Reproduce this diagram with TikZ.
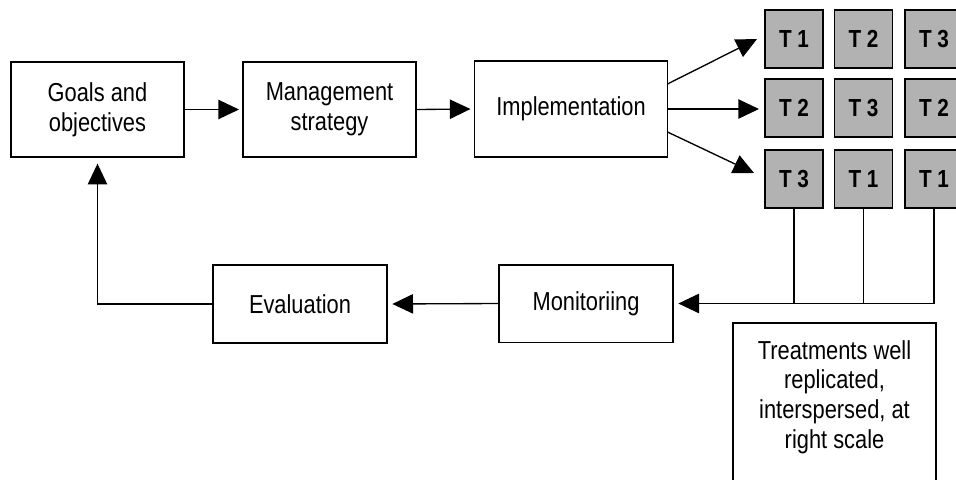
\documentclass[tikz,border=0pt]{standalone}
\usepackage{fontspec}
\setmainfont[FakeStretch=0.84]{Liberation Sans}
\usetikzlibrary{arrows.meta,calc}
\definecolor{tgray}{RGB}{178,178,178}
\begin{document}
\begin{tikzpicture}[x=0.75pt,y=-0.75pt,
  font=\fontsize{19.5pt}{22.3pt}\selectfont,
  every node/.style={inner sep=0pt, outer sep=0pt},
  box/.style={draw, line width=1pt, align=center, fill=white},
  tbox/.style={draw, line width=1pt, fill=tgray, minimum width=43.5pt, minimum height=43.5pt,
    font=\fontsize{18.5pt}{20pt}\selectfont\bfseries},
  conn/.style={line width=1pt},
  arr/.style={line width=1pt, -{Triangle[length=15.5pt,width=14.5pt]}},
]
\useasboundingbox (0,0) rectangle (956,479);
% main boxes
\node[box, minimum width=129.75pt, minimum height=71.25pt] (goals) at (97.5,109.5) {Goals and\\objectives};
\node[box, minimum width=129.75pt, minimum height=71.25pt] (mgmt) at (329.5,109.5) {Management\\strategy};
\node[box, minimum width=144.75pt, minimum height=72pt] (impl) at (571,109) {Implementation};
\node[box, minimum width=130.5pt, minimum height=58.5pt] (eval) at (300,304) {Evaluation};
\node[box, minimum width=130.5pt, minimum height=58pt] (mon) at (586,303.5) {Monitoriing};
% treatment grid
\node[tbox] (t11) at (794,39) {T 1};
\node[tbox] (t12) at (863.5,39) {T 2};
\node[tbox] (t13) at (934,39) {T 3};
\node[tbox] (t21) at (794,108) {T 2};
\node[tbox] (t22) at (863.5,108) {T 3};
\node[tbox] (t23) at (934,108) {T 2};
\node[tbox] (t31) at (794,179) {T 3};
\node[tbox] (t32) at (863.5,179) {T 1};
\node[tbox] (t33) at (934,179) {T 1};
% treatments box (runs off the bottom)
\node[box, minimum width=152.25pt, minimum height=150pt, anchor=north] (treat) at (834.5,323) {};
\node[align=center, anchor=north] (treattxt) at ([yshift=-13pt]treat.north) {Treatments well\\replicated,\\interspersed, at\\right scale};
% connectors
\draw[arr, shorten >=3pt] (goals.east) -- (mgmt.west);
\draw[arr, shorten >=3pt] (mgmt.east) -- (impl.west);
\draw[arr] ([yshift=18.75pt]impl.east) -- ([xshift=-6pt]t11.west);
\draw[arr] (impl.east) -- ([xshift=-4.5pt]t21.west |- impl.east);
\draw[arr] ([yshift=-17.25pt]impl.east) -- ([xshift=-8.25pt,yshift=4.5pt]t31.west);
\draw[conn] (t31.south) -- (t31.south |- mon.east);
\draw[conn] (t32.south) -- (t32.south |- mon.east);
\draw[arr, shorten >=4pt] (t33.south) |- (mon.east);
\draw[arr, shorten >=4pt] (mon.west) -- (eval.east);
\draw[arr, shorten >=5pt] (eval.west) -| (goals.south);
\end{tikzpicture}
\end{document}
